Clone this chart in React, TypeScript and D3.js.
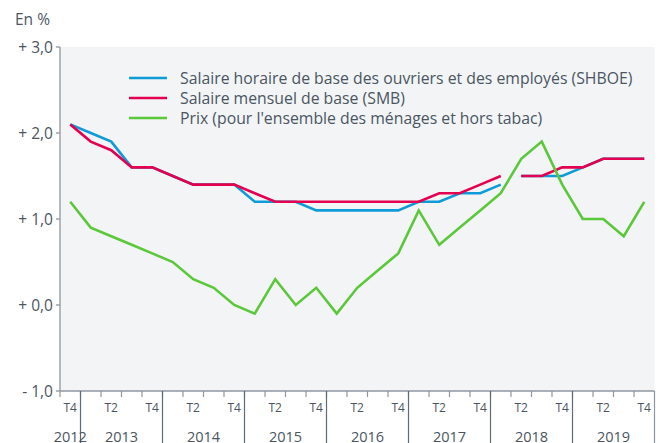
import React from "react";
import * as d3 from "d3";

const quarters: string[] = [
  "2012 T4",
  "2013 T1", "2013 T2", "2013 T3", "2013 T4",
  "2014 T1", "2014 T2", "2014 T3", "2014 T4",
  "2015 T1", "2015 T2", "2015 T3", "2015 T4",
  "2016 T1", "2016 T2", "2016 T3", "2016 T4",
  "2017 T1", "2017 T2", "2017 T3", "2017 T4",
  "2018 T1", "2018 T2", "2018 T3", "2018 T4",
  "2019 T1", "2019 T2", "2019 T3", "2019 T4",
];
const years: string[] = ["2012", "2013", "2014", "2015", "2016", "2017", "2018", "2019"];

const shboe: number[] = [
  2.1, 2.0, 1.9, 1.6, 1.6, 1.5, 1.4, 1.4, 1.4, 1.2, 1.2, 1.2, 1.1, 1.1, 1.1, 1.1, 1.1,
  1.2, 1.2, 1.3, 1.3, 1.4, 1.5, 1.5, 1.5, 1.6, 1.7, 1.7, 1.7,
];
const smb: number[] = [
  2.1, 1.9, 1.8, 1.6, 1.6, 1.5, 1.4, 1.4, 1.4, 1.3, 1.2, 1.2, 1.2, 1.2, 1.2, 1.2, 1.2,
  1.2, 1.3, 1.3, 1.4, 1.5, 1.5, 1.5, 1.6, 1.6, 1.7, 1.7, 1.7,
];
const prix: number[] = [
  1.2, 0.9, 0.8, 0.7, 0.6, 0.5, 0.3, 0.2, 0.0, -0.1, 0.3, 0.0, 0.2, -0.1, 0.2, 0.4, 0.6,
  1.1, 0.7, 0.9, 1.1, 1.3, 1.7, 1.9, 1.4, 1.0, 1.0, 0.8, 1.2,
];
// series break for the wage series: a new segment starts at this quarter
const wageBreak = "2018 T2";

const yTicks: number[] = [3, 2, 1, 0, -1];
const yTickLabels: string[] = ["+ 3,0", "+ 2,0", "+ 1,0", "+ 0,0", "- 1,0"];

const legendLabels: string[] = [
  "Salaire horaire de base des ouvriers et des employés (SHBOE)",
  "Salaire mensuel de base (SMB)",
  "Prix (pour l'ensemble des ménages et hors tabac)",
];

const BLUE = "#0f9bd7";
const RED = "#e4004e";
const GREEN = "#5bc83a";
const TEXT = "#4b5662";
const AXIS = "#8e979f";
const FONT = "'Open Sans', 'Noto Sans', sans-serif";

export default function App() {
  const W = 662;
  const H = 443;
  const left = 60;
  const right = 654.5;
  const top = 47;
  const bottom = 391;

  const x = d3.scaleBand<string>().domain(quarters).range([left, right]).padding(0);
  const y = d3.scaleLinear().domain([-1, 3]).range([bottom, top]);
  const cx = (q: string) => (x(q) as number) + x.bandwidth() / 2;

  const line = d3
    .line<{ q: string; v: number }>()
    .x((d) => cx(d.q))
    .y((d) => y(d.v));

  const brk = quarters.indexOf(wageBreak);
  const toPts = (vals: number[]) => vals.map((v, i) => ({ q: quarters[i], v }));
  const segs = (vals: number[]) => {
    const pts = toPts(vals);
    return [pts.slice(0, brk), pts.slice(brk)];
  };

  const series = [
    { vals: shboe, color: BLUE, split: true },
    { vals: smb, color: RED, split: true },
    { vals: prix, color: GREEN, split: false },
  ];

  const yearSpans = years.map((yr) => {
    const qs = quarters.filter((q) => q.startsWith(yr));
    const x0 = x(qs[0]) as number;
    const x1 = (x(qs[qs.length - 1]) as number) + x.bandwidth();
    return { yr, x0, x1 };
  });

  return (
    <svg width={W} height={H} style={{ position: "absolute", left: 0, top: 0 }} fontFamily={FONT}>
      <rect x={left} y={top} width={right - left} height={bottom - top} fill="#f2f4f6" />
      <text x={15} y={25} fontSize={15.5} fill={TEXT}>
        En %
      </text>
      {/* y axis */}
      <line x1={left} x2={left} y1={top} y2={bottom} stroke={AXIS} strokeWidth={1.3} />
      {yTicks.map((t, i) => (
        <g key={t}>
          <line x1={left - 4} x2={left} y1={y(t)} y2={y(t)} stroke={AXIS} strokeWidth={1.3} />
          <text x={left - 7} y={y(t) + 5.5} fontSize={15.5} fill={TEXT} textAnchor="end">
            {yTickLabels[i]}
          </text>
        </g>
      ))}
      {/* x axis */}
      <line x1={left} x2={right} y1={bottom} y2={bottom} stroke={AXIS} strokeWidth={1.3} />
      {quarters.map((q) => (
        <line
          key={"t" + q}
          x1={x(q) as number}
          x2={x(q) as number}
          y1={bottom}
          y2={bottom + 6}
          stroke={AXIS}
          strokeWidth={1.2}
        />
      ))}
      {yearSpans.slice(1).map((s) => (
        <line key={"ys" + s.yr} x1={s.x0} x2={s.x0} y1={bottom} y2={H} stroke="#5f6a74" strokeWidth={1.2} />
      ))}
      <line x1={right} x2={right} y1={bottom} y2={H} stroke={AXIS} strokeWidth={1.2} />
      {quarters
        .filter((q) => q.endsWith("T2") || q.endsWith("T4"))
        .map((q) => (
          <text key={"l" + q} x={cx(q)} y={411.5} fontSize={12} fill={TEXT} textAnchor="middle">
            {q.slice(5)}
          </text>
        ))}
      {yearSpans.map((s) => (
        <text key={"y" + s.yr} x={(s.x0 + s.x1) / 2} y={442} fontSize={14.5} fill={TEXT} textAnchor="middle">
          {s.yr}
        </text>
      ))}
      {/* series */}
      {series.map((s, i) =>
        (s.split ? segs(s.vals) : [toPts(s.vals)]).map((seg, j) => (
          <path
            key={i + "-" + j}
            d={line(seg) as string}
            fill="none"
            stroke={s.color}
            strokeWidth={2.6}
            strokeLinejoin="miter"
          />
        ))
      )}
      {/* legend */}
      {legendLabels.map((lab, i) => (
        <g key={lab}>
          <line
            x1={129}
            x2={167}
            y1={78 + i * 20}
            y2={78 + i * 20}
            stroke={[BLUE, RED, GREEN][i]}
            strokeWidth={2.6}
          />
          <text x={180} y={83.5 + i * 20} fontSize={15.8} fill={TEXT}>
            {lab}
          </text>
        </g>
      ))}
    </svg>
  );
}
